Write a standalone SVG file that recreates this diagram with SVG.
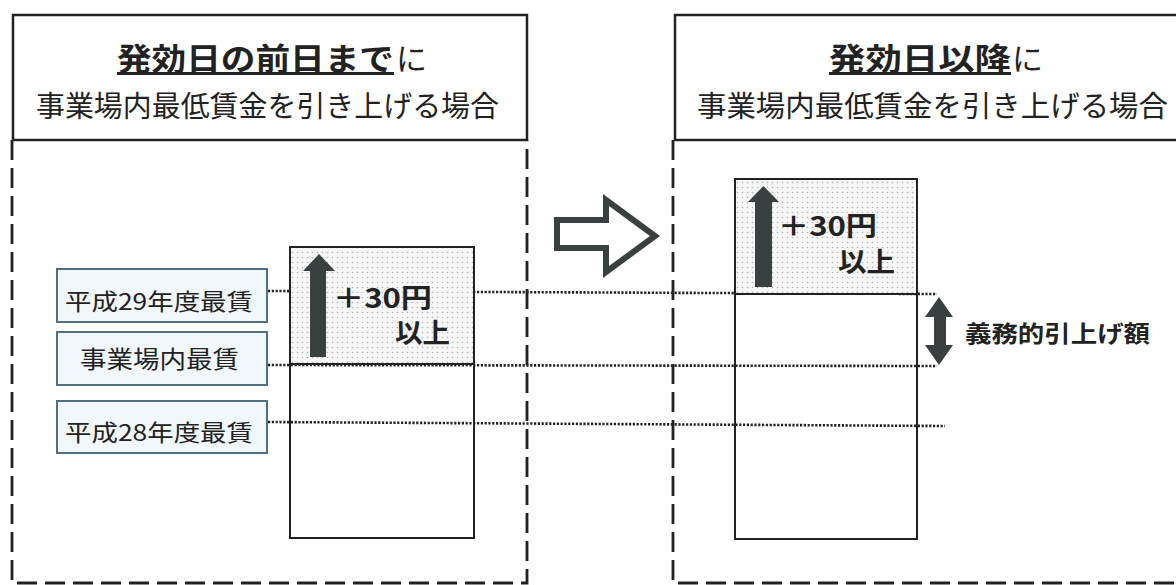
<svg xmlns="http://www.w3.org/2000/svg" width="1176" height="585" viewBox="0 0 1176 585">
  <style>
    .hdr { fill: #ffffff; stroke: #222; stroke-width: 2.5; }
    .frame { fill: none; stroke: #222; stroke-width: 2.8; stroke-dasharray: 20 8; }
    .dot { fill: none; stroke: #222; stroke-width: 2.6; stroke-dasharray: 2.2 1.6; }
    .bar { fill: none; stroke: #222; stroke-width: 2; }
    .lbl { fill: #f2f7fb; stroke: #52707f; stroke-width: 2; }
    .t { font-family: "Noto Sans CJK JP", "Noto Sans", sans-serif; fill: #222; }
    .b { font-weight: bold; }
    .solid { fill: #3a3f3f; }
  </style>
  <defs>
    <pattern id="dots" width="5" height="5" patternUnits="userSpaceOnUse">
      <rect width="5" height="5" fill="#f6f6f6"/>
      <circle cx="2.5" cy="2.5" r="0.8" fill="#b5b5b5"/>
    </pattern>
  </defs>

  <!-- frames -->
  <g id="frame-left">
    <path class="frame" d="M12,140 V583 H527 V140"/>
  </g>
  <g id="frame-right">
    <path class="frame" d="M673,140 V583 H1180"/>
  </g>

  <!-- headers -->
  <g id="header-left">
    <rect class="hdr" x="13" y="15" width="514" height="125"/>
    <text class="t b" x="117" y="70" font-size="31" textLength="277" lengthAdjust="spacingAndGlyphs">発効日の前日まで</text>
    <rect x="117" y="72" width="277" height="3" fill="#222"/>
    <text class="t" x="396" y="70" font-size="31">に</text>
    <text class="t" x="36" y="117" font-size="29" textLength="463" lengthAdjust="spacingAndGlyphs">事業場内最低賃金を引き上げる場合</text>
  </g>
  <g id="header-right">
    <rect class="hdr" x="675" y="15" width="520" height="125"/>
    <text class="t b" x="829" y="70" font-size="31" textLength="182" lengthAdjust="spacingAndGlyphs">発効日以降</text>
    <rect x="829" y="72" width="182" height="3" fill="#222"/>
    <text class="t" x="1012" y="70" font-size="31">に</text>
    <text class="t" x="697" y="117" font-size="29" textLength="471" lengthAdjust="spacingAndGlyphs">事業場内最低賃金を引き上げる場合</text>
  </g>

  <!-- bar backgrounds -->
  <g id="bar-bg">
    <rect x="290" y="247" width="184" height="291" fill="#ffffff"/>
    <rect x="735" y="179" width="182" height="360" fill="#ffffff"/>
  </g>

  <!-- connectors: dotted level lines -->
  <g id="connectors">
    <line class="dot" x1="268" y1="291" x2="937" y2="294"/>
    <line class="dot" x1="268" y1="365" x2="937" y2="366"/>
    <line class="dot" x1="268" y1="422" x2="945" y2="426"/>
  </g>

  <!-- left bar -->
  <g id="bar-left">
    <rect x="290" y="247" width="184" height="117" fill="url(#dots)"/>
    <rect class="bar" x="290" y="247" width="184" height="291"/>
    <line class="bar" x1="290" y1="364" x2="474" y2="364"/>
    <polygon class="solid" points="310,357 310,271 303,271 319,254 335,271 326,271 326,357"/>
    <text class="t b" x="333" y="308" font-size="27" textLength="99" lengthAdjust="spacingAndGlyphs">＋30円</text>
    <text class="t b" x="395" y="343" font-size="27" textLength="55" lengthAdjust="spacingAndGlyphs">以上</text>
  </g>

  <!-- right bar -->
  <g id="bar-right">
    <rect x="735" y="179" width="182" height="115" fill="url(#dots)"/>
    <rect class="bar" x="735" y="179" width="182" height="360"/>
    <line class="bar" x1="735" y1="294" x2="917" y2="294"/>
    <polygon class="solid" points="755,287 755,202 748,202 763.5,186 779,202 772,202 772,287"/>
    <text class="t b" x="778" y="236" font-size="27" textLength="99" lengthAdjust="spacingAndGlyphs">＋30円</text>
    <text class="t b" x="838" y="272" font-size="27" textLength="57" lengthAdjust="spacingAndGlyphs">以上</text>
  </g>

  <!-- labels -->
  <g id="label-h29">
    <rect class="lbl" x="57" y="269" width="210" height="53"/>
    <text class="t" x="65" y="310" font-size="23" textLength="188" lengthAdjust="spacingAndGlyphs">平成29年度最賃</text>
  </g>
  <g id="label-inner">
    <rect class="lbl" x="57" y="332" width="210" height="53"/>
    <text class="t" x="80" y="368" font-size="24" textLength="159" lengthAdjust="spacingAndGlyphs">事業場内最賃</text>
  </g>
  <g id="label-h28">
    <rect class="lbl" x="57" y="401" width="210" height="52"/>
    <text class="t" x="65" y="441" font-size="23" textLength="188" lengthAdjust="spacingAndGlyphs">平成28年度最賃</text>
  </g>

  <!-- transition arrow -->
  <g id="arrow-transition">
    <polygon points="557,220 606,220 606,200 655,236 606,272 606,248 557,248" fill="#ffffff" stroke="#3a3f3f" stroke-width="6" stroke-linejoin="miter"/>
  </g>

  <!-- obligation amount -->
  <g id="obligation">
    <polygon class="solid" points="939,297 953,317 946,317 946,345 953,345 939,365 925,345 934,345 934,317 925,317"/>
    <text class="t b" x="965" y="342" font-size="23" textLength="185" lengthAdjust="spacingAndGlyphs">義務的引上げ額</text>
  </g>
</svg>
